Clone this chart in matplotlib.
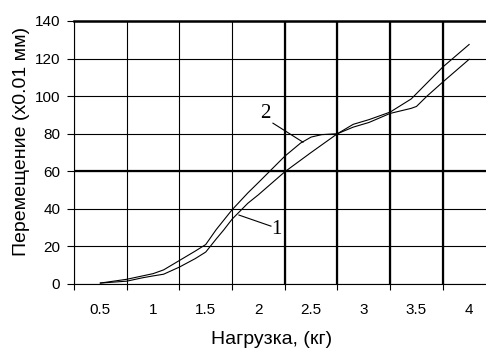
import numpy as np
import matplotlib
matplotlib.use('Agg')
import matplotlib.pyplot as plt

# curve 1 / curve 2 (load in kg, displacement in 0.01 mm)
load_1 = [0.5, 0.75, 0.9, 1.0, 1.1, 1.25, 1.4, 1.5, 1.6, 1.67, 1.75, 1.9, 2.0, 2.25, 2.5, 2.75,
          2.9, 3.05, 3.25, 3.45, 3.6, 3.75, 4.0]
disp_1 = [0.5, 1.5, 3.3, 4.3, 5.2, 9.0, 13.5, 17.0, 24.0, 28.7, 34.5, 43.0, 47.5, 59.7, 70.0, 80.0,
          85.0, 87.5, 91.5, 98.5, 107.0, 115.5, 127.5]

load_2 = [0.5, 0.75, 0.9, 1.0, 1.1, 1.25, 1.4, 1.5, 1.6, 1.75, 1.9, 2.0, 2.25, 2.4, 2.5, 2.6, 2.75,
          2.9, 3.05, 3.25, 3.45, 3.5, 3.6, 3.75, 4.0]
disp_2 = [0.5, 2.5, 4.3, 5.5, 7.5, 12.5, 17.5, 21.0, 29.0, 39.5, 48.5, 54.0, 68.0, 75.0, 78.2, 79.5, 80.0,
          83.5, 86.0, 90.8, 93.5, 94.5, 100.0, 107.5, 119.6]

x_ticks = [0.5, 1, 1.5, 2, 2.5, 3, 3.5, 4]
x_labels = ['0.5', '1', '1.5', '2', '2.5', '3', '3.5', '4']
x_grid = [0.25, 0.75, 1.25, 1.75, 2.25, 2.75, 3.25, 3.75]
y_ticks = [0, 20, 40, 60, 80, 100, 120, 140]
bold_x = [2.25, 2.75, 3.25, 3.75]
bold_y = [60]

plt.rcParams['font.family'] = ['Liberation Sans', 'DejaVu Sans']

fig = plt.figure(figsize=(4.86, 3.51), dpi=100)
ax = fig.add_axes([0.1523, 0.1909, 0.8477, 0.7493])

ax.set_xlim(0.25, 4.16)
ax.set_ylim(0, 140)
ax.set_xticks(x_ticks)
ax.set_xticklabels(x_labels)
ax.set_xticks(x_grid, minor=True)
ax.set_yticks(y_ticks)

ax.tick_params(axis='x', which='major', length=0, pad=14, labelsize=11)
ax.tick_params(axis='x', which='minor', length=4, width=0.8, direction='out')
ax.tick_params(axis='y', length=5, width=0.8, pad=5, labelsize=11)

ax.grid(which='minor', axis='x', color='k', lw=0.8)
ax.grid(which='major', axis='y', color='k', lw=0.8)
ax.set_axisbelow(True)
for b in bold_x:
    ax.axvline(b, color='k', lw=1.6, zorder=1)
for b in bold_y:
    ax.axhline(b, color='k', lw=1.6, zorder=1)

ax.spines['right'].set_visible(False)
ax.spines['top'].set_linewidth(1.8)
ax.spines['left'].set_linewidth(0.8)
ax.spines['bottom'].set_linewidth(0.8)

ax.plot(load_1, disp_1, color='k', lw=0.8, zorder=3)
ax.plot(load_2, disp_2, color='k', lw=0.8, zorder=3)

# curve labels with leader lines
ax.plot([2.138, 2.423], [85.6, 75.5], color='k', lw=0.8, zorder=3)
ax.text(2.062, 90.9, '2', fontsize=15, family='Liberation Serif', ha='center', va='center')
ax.plot([2.119, 1.815], [30.8, 36.7], color='k', lw=0.8, zorder=3)
ax.text(2.167, 29.2, '1', fontsize=15, family='Liberation Serif', ha='center', va='center')

fig.text(272 / 486, 1 - 340 / 351, 'Нагрузка, (кг)', fontsize=14, ha='center', va='center')
fig.text(22 / 486, 1 - 141 / 351, 'Перемещение (x0.01 мм)', fontsize=14, rotation=90,
         ha='center', va='center')

fig.savefig('out.png', dpi=100)
